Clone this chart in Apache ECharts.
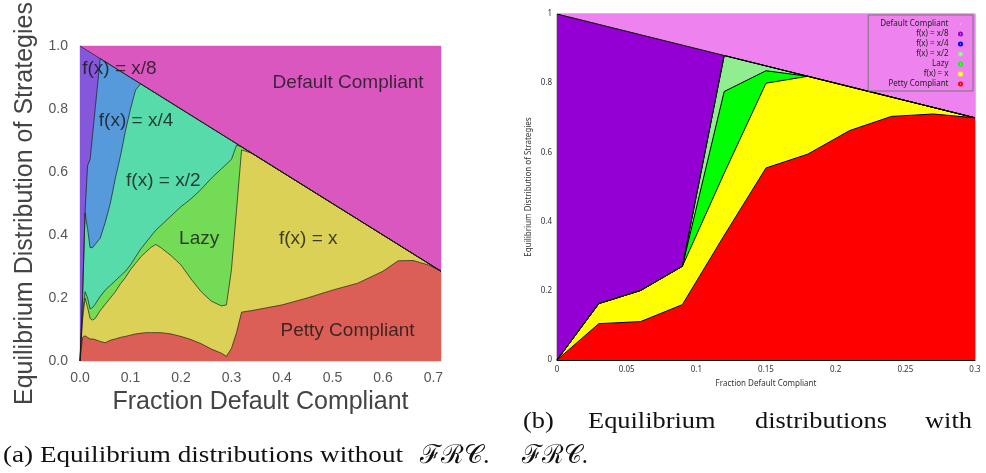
<!DOCTYPE html>
<html><head><meta charset="utf-8">
<script src="https://cdn.jsdelivr.net/npm/echarts@6/dist/echarts.min.js"></script>
<style>html,body{margin:0;padding:0;background:#fff}#c{width:986px;height:473px}</style>
</head><body><div id="c"></div>
<script>
// ---------- (a) without FRC ----------
const xsA = [0, 0.005, 0.01, 0.015, 0.02, 0.025, 0.03, 0.04, 0.05, 0.06, 0.07, 0.08, 0.09, 0.1, 0.11, 0.12, 0.13, 0.14, 0.15, 0.16, 0.18, 0.2, 0.22, 0.24, 0.26, 0.28, 0.29, 0.3, 0.31, 0.32, 0.34, 0.36, 0.38, 0.4, 0.45, 0.5, 0.55, 0.6, 0.63, 0.66, 0.69, 0.715];
const pettyA = [0, .075, .08, .075, .07, .07, .068, .062, .058, .066, .07, .075, .078, .082, .086, .088, .09, .09, .09, .09, .086, .078, .068, .055, .038, .025, .015, .04, .09, .155, .16, .166, .172, .178, .2, .225, .247, .285, .318, .319, .305, .285];
const fxA = [0, .055, .12, .095, .065, .06, .067, .098, .122, .134, .15, .17, .187, .208, .224, .242, .255, .27, .28, .27, .249, .227, .192, .165, .152, .15, .163, .25, .39, .515, .5, .474, .448, .422, .35, .275, .203, .115, .052, .021, .005, 0];
const lazyA = [0, .02, .02, .03, .03, .04, .045, .045, .045, .04, .035, .025, .02, .015, .02, .025, .03, .035, .045, .07, .125, .185, .255, .325, .39, .435, .447, .35, .205, .01, 0, 0, 0, 0, 0, 0, 0, 0, 0, 0, 0, 0];
const halfA = [0, .05, .25, .22, .195, .19, .19, .185, .215, .26, .325, .38, .445, .495, .53, .525, .495, .465, .435, .41, .36, .31, .265, .215, .16, .11, .085, .06, .005, 0, 0, 0, 0, 0, 0, 0, 0, 0, 0, 0, 0, 0];
const quarterA = [0, 0, 0, .2, .28, .36, .43, .57, .51, .44, .35, .27, .18, .1, .03, 0, 0, 0, 0, 0, 0, 0, 0, 0, 0, 0, 0, 0, 0, 0, 0, 0, 0, 0, 0, 0, 0, 0, 0, 0, 0, 0];
const eighthA = [1, .795, .52, .365, .34, .255, .17, 0, 0, 0, 0, 0, 0, 0, 0, 0, 0, 0, 0, 0, 0, 0, 0, 0, 0, 0, 0, 0, 0, 0, 0, 0, 0, 0, 0, 0, 0, 0, 0, 0, 0, 0];
const defaultA = [0, 0.005, 0.01, 0.015, 0.02, 0.025, 0.03, 0.04, 0.05, 0.06, 0.07, 0.08, 0.09, 0.1, 0.11, 0.12, 0.13, 0.14, 0.15, 0.16, 0.18, 0.2, 0.22, 0.24, 0.26, 0.28, 0.29, 0.3, 0.31, 0.32, 0.34, 0.36, 0.38, 0.4, 0.45, 0.5, 0.55, 0.6, 0.63, 0.66, 0.69, 0.715];

// ---------- (b) with FRC ----------
const xsB = [0, 0.03, 0.06, 0.09, 0.12, 0.15, 0.18, 0.21, 0.24, 0.27, 0.3];
const pettyB = [0, 0.105, 0.111, 0.16, 0.36, 0.555, 0.595, 0.663, 0.704, 0.711, 0.70];
const fxB = [0, 0.058, 0.09, 0.111, 0.18, 0.245, 0.225, 0.127, 0.056, 0.019, 0];
const lazyB = [0, 0, 0, 0, 0.236, 0.036, 0, 0, 0, 0, 0];
const halfB = [0, 0, 0, 0, 0.104, 0.014, 0, 0, 0, 0, 0];
const quarterB = [0, 0, 0, 0, 0, 0, 0, 0, 0, 0, 0];
const eighthB = [1, 0.807, 0.739, 0.639, 0, 0, 0, 0, 0, 0, 0];
const defaultB = [0, 0.03, 0.06, 0.09, 0.12, 0.15, 0.18, 0.21, 0.24, 0.27, 0.3];

const strategyNames = ['Petty Compliant', 'f(x) = x', 'Lazy', 'f(x) = x/2', 'f(x) = x/4', 'f(x) = x/8', 'Default Compliant'];
const legendOrder = ['Default Compliant', 'f(x) = x/8', 'f(x) = x/4', 'f(x) = x/2', 'Lazy', 'f(x) = x', 'Petty Compliant'];

const xTicksA = ['0.0', '0.1', '0.2', '0.3', '0.4', '0.5', '0.6', '0.7'];
const yTicksA = ['0.0', '0.2', '0.4', '0.6', '0.8', '1.0'];

// in-plot annotations of panel (a): text and anchor in data units
const annotText = ['f(x) = x/8', 'Default Compliant', 'f(x) = x/4', 'f(x) = x/2', 'Lazy', 'f(x) = x', 'Petty Compliant'];
const annotX = [0.078, 0.531, 0.111, 0.165, 0.236, 0.452, 0.53];
const annotY = [0.927, 0.884, 0.762, 0.573, 0.388, 0.388, 0.096];

const colorsA = ['#db5f57', '#dbd157', '#74db57', '#57dbab', '#579adb', '#8557db', '#db57c0'];
const colorsB = ['#ff0000', '#ffff00', '#00ff00', '#90ee90', '#0000ff', '#9400d3', '#ee82ee'];

function build(xs, parts, colors, ax, lc, lw, tag) {
  const run = xs.map(() => 0);
  const tops = parts.map(p => p.map((v, i) => (run[i] += v)));
  const list = [];
  for (let k = parts.length - 1; k >= 0; k--) {
    list.push({
      type: 'line', name: strategyNames[k] + tag, xAxisIndex: ax, yAxisIndex: ax,
      data: xs.map((x, i) => [x, +tops[k][i].toFixed(6)]),
      symbol: 'none', showSymbol: false, silent: true, animation: false,
      lineStyle: { color: lc, width: k === parts.length - 1 ? 0 : lw },
      areaStyle: { color: colors[k], opacity: 1 },
      itemStyle: { color: colors[k] },
      z: 2
    });
  }
  return list;
}

const seriesA = build(xsA, [pettyA, fxA, lazyA, halfA, quarterA, eighthA, defaultA], colorsA, 0, 'rgba(25,25,25,0.85)', 0.8, ' (a)');
const seriesB = build(xsB, [pettyB, fxB, lazyB, halfB, quarterB, eighthB, defaultB], colorsB, 1, '#000', 1, '');

const annotSeries = {
  type: 'scatter', name: 'annot', xAxisIndex: 0, yAxisIndex: 0, silent: true, animation: false,
  symbolSize: 0.1, itemStyle: { color: 'transparent' }, z: 10,
  data: annotText.map((t, i) => ({ name: t, value: [annotX[i], annotY[i]] })),
  label: { show: true, position: 'inside', formatter: '{b}', fontSize: 19, color: '#151515', fontFamily: 'Liberation Sans' }
};

function cap(text, x, y, sx, size) {
  return { type: 'text', x: x, y: y, scaleX: sx, style: { text: text, font: size + 'px "Liberation Serif"', fill: '#111', verticalAlign: 'middle' } };
}

const chart = echarts.init(document.getElementById('c'), null, { renderer: 'canvas' });
chart.setOption({
  animation: false,
  backgroundColor: '#fff',
  grid: [
    { left: 80, top: 46, width: 361, height: 315, show: true, borderColor: '#c8c8c8', borderWidth: 1, backgroundColor: 'transparent' },
    { left: 557, top: 14, width: 418, height: 346, show: true, borderColor: '#888', borderWidth: 1, backgroundColor: 'transparent' }
  ],
  xAxis: [
    {
      gridIndex: 0, type: 'value', min: 0, max: 0.715, interval: 0.1,
      axisLine: { show: false }, axisTick: { show: false }, splitLine: { show: false },
      axisLabel: {
        color: '#555', fontSize: 14, fontFamily: 'Liberation Sans', margin: 10,
        formatter: v => { const k = Math.round(v * 10); return Math.abs(v * 10 - k) < 1e-6 ? xTicksA[k] : ''; }
      },
      name: 'Fraction Default Compliant', nameLocation: 'middle', nameGap: 29,
      nameTextStyle: { fontSize: 25, color: '#444', fontFamily: 'Liberation Sans' }
    },
    {
      gridIndex: 1, type: 'value', min: 0, max: 0.3, interval: 0.05,
      axisLine: { show: true, lineStyle: { color: '#000', width: 1 } }, axisTick: { show: false }, splitLine: { show: false },
      axisLabel: { color: '#333', fontSize: 8, fontFamily: 'Noto Sans', margin: 6 },
      name: 'Fraction Default Compliant', nameLocation: 'middle', nameGap: 20,
      nameTextStyle: { fontSize: 8, color: '#333', fontFamily: 'Noto Sans' }
    }
  ],
  yAxis: [
    {
      gridIndex: 0, type: 'value', min: 0, max: 1, interval: 0.2,
      axisLine: { show: false }, axisTick: { show: false }, splitLine: { show: false },
      axisLabel: {
        color: '#555', fontSize: 14, fontFamily: 'Liberation Sans', margin: 12,
        formatter: v => yTicksA[Math.round(v * 5)]
      },
      name: 'Equilibrium Distribution of Strategies', nameLocation: 'middle', nameGap: 42,
      nameTextStyle: { fontSize: 25, color: '#444', fontFamily: 'Liberation Sans' }
    },
    {
      gridIndex: 1, type: 'value', min: 0, max: 1, interval: 0.2,
      axisLine: { show: false }, axisTick: { show: false }, splitLine: { show: false },
      axisLabel: { color: '#333', fontSize: 8, fontFamily: 'Noto Sans', margin: 5 },
      name: 'Equilibrium Distribution of Strategies', nameLocation: 'middle', nameGap: 24,
      nameTextStyle: { fontSize: 8, color: '#333', fontFamily: 'Noto Sans' }
    }
  ],
  legend: {
    right: 13, top: 15, orient: 'vertical', align: 'right',
    itemWidth: 14, itemHeight: 3, itemGap: 0, padding: [4, 10, 2, 12],
    borderColor: '#777', borderWidth: 1, backgroundColor: 'transparent',
    selectedMode: false, icon: 'emptyCircle',
    textStyle: { fontSize: 8, color: '#222', fontFamily: 'Noto Sans', lineHeight: 10 },
    data: legendOrder.map(n => ({ name: n, itemStyle: { color: colorsB[strategyNames.indexOf(n)] } }))
  },
  graphic: [
    cap('(b)', 523, 422, 1.1, 24), cap('Equilibrium', 588, 422, 1.1, 24), cap('distributions', 755, 422, 1.1, 24), cap('with', 925, 422, 1.1, 24),
    cap('(a) Equilibrium distributions without', 3, 456, 1.13, 24),
    cap('\u2131\u211B\uD835\uDC9E.', 420, 456, 1.0, 26),
    cap('\u2131\u211B\uD835\uDC9E.', 522, 456, 0.95, 26)
  ],
  series: seriesA.concat(seriesB, [annotSeries])
});
</script></body></html>
